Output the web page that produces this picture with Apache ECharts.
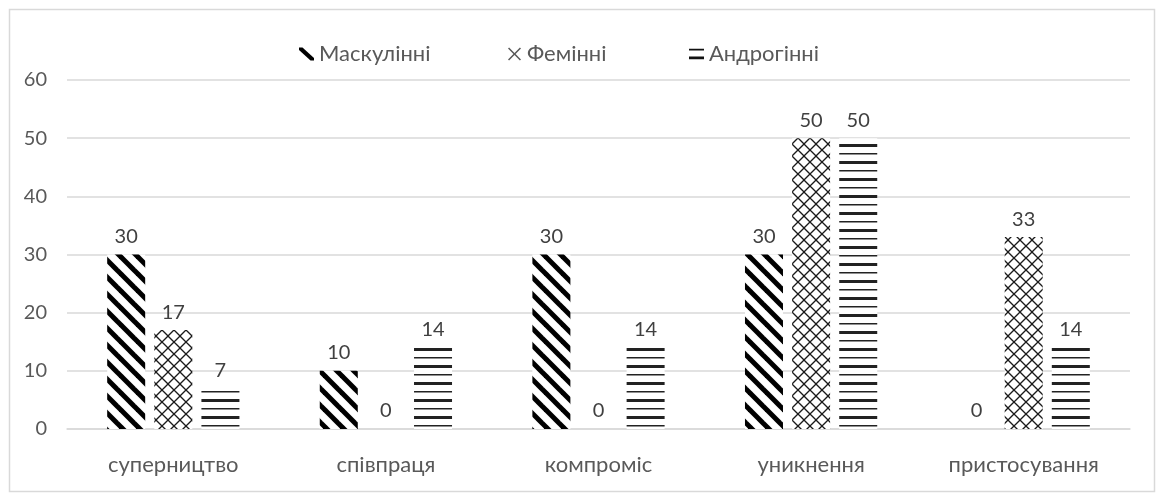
<!DOCTYPE html>
<html>
<head>
<meta charset="utf-8">
<script src="https://cdn.jsdelivr.net/npm/echarts@6/dist/echarts.min.js"></script>
<style>
html,body{margin:0;padding:0;background:#fff;}
#main{width:1160px;height:500px;}
</style>
</head>
<body>
<div id="main"></div>
<script>
const categories = ['суперництво', 'співпраця', 'компроміс', 'уникнення', 'пристосування'];
const seriesNames = ['Маскулінні', 'Фемінні', 'Андрогінні'];
const masculine = [30, 10, 30, 30, 0];
const feminine = [17, 0, 0, 50, 33];
const androgynous = [7, 14, 14, 50, 14];
const yTicks = [0, 10, 20, 30, 40, 50, 60];

function makeCanvas(w, h, draw) {
  const c = document.createElement('canvas');
  c.width = w; c.height = h;
  const ctx = c.getContext('2d');
  ctx.fillStyle = '#fff';
  ctx.fillRect(0, 0, w, h);
  draw(ctx, w, h);
  return c;
}
// diagonal "\" stripes
const diagPat = makeCanvas(17, 17, (ctx, w, h) => {
  ctx.strokeStyle = '#000';
  ctx.lineWidth = 5;
  for (let k = -1; k <= 1; k++) {
    ctx.beginPath();
    ctx.moveTo(k * w - 2, -2);
    ctx.lineTo(k * w + w + 2, h + 2);
    ctx.stroke();
  }
});
// crosshatch diamonds
const crossPat = makeCanvas(12, 12, (ctx, w, h) => {
  ctx.strokeStyle = '#1a1a1a';
  ctx.lineWidth = 1.3;
  for (let k = -1; k <= 1; k++) {
    ctx.beginPath();
    ctx.moveTo(k * w - 1, -1);
    ctx.lineTo(k * w + w + 1, h + 1);
    ctx.stroke();
    ctx.beginPath();
    ctx.moveTo(k * w + w + 1, -1);
    ctx.lineTo(k * w - 1, h + 1);
    ctx.stroke();
  }
});
// horizontal lines alternating thin / thick
const horizPat = makeCanvas(8, 17, (ctx, w, h) => {
  ctx.fillStyle = '#222';
  ctx.fillRect(0, 0, w, 1.5);
  ctx.fillRect(0, 8, w, 3);
});

const chart = echarts.init(document.getElementById('main'), null, {renderer: 'canvas'});
const font = 'Lato';
const labelStyle = {show: true, position: 'top', distance: 8, color: '#404040', fontSize: 20, fontFamily: font};

function legendFor(i, left, icon, color) {
  return {
    left: left, top: 38,
    itemWidth: 15, itemHeight: 13, itemGap: 0,
    textStyle: {color: '#595959', fontSize: 22, fontFamily: font},
    selectedMode: false,
    data: [{name: seriesNames[i], icon: icon, itemStyle: {color: color}}]
  };
}

chart.setOption({
  animation: false,
  backgroundColor: '#fff',
  graphic: [{
    type: 'rect', shape: {x: 9.5, y: 9.5, width: 1145, height: 482},
    style: {fill: 'none', stroke: '#d9d9d9', lineWidth: 1.5}, silent: true
  }],
  legend: [
    legendFor(0, 294, 'path://M0,0 L3.5,0 L15,10.5 L15,13 L11.5,13 L0,2.5 Z', '#000'),
    legendFor(1, 503, 'path://M0,1 L1,0 L6,5 L11,0 L12,1 L7,6 L12,11 L11,12 L6,7 L1,12 L0,11 L5,6 Z', '#595959'),
    legendFor(2, 684, 'path://M0,0 L12,0 L12,1.4 L0,1.4 Z M0,6.2 L12,6.2 L12,8.4 L0,8.4 Z', '#111')
  ],
  grid: {left: 67, right: 30, top: 80, bottom: 71, containLabel: false},
  xAxis: {
    type: 'category', data: categories,
    axisLine: {show: true, lineStyle: {color: '#d9d9d9', width: 1.5}},
    axisTick: {show: false},
    axisLabel: {color: '#595959', fontSize: 22, fontFamily: font, margin: 25}
  },
  yAxis: {
    type: 'value', min: yTicks[0], max: yTicks[yTicks.length - 1], interval: 10,
    axisLine: {show: false}, axisTick: {show: false},
    axisLabel: {color: '#595959', fontSize: 20, fontFamily: font, margin: 20},
    splitLine: {lineStyle: {color: '#d9d9d9', width: 1.5}}
  },
  series: [
    {name: seriesNames[0], type: 'bar', data: masculine, barWidth: 38, barGap: '24%',
     itemStyle: {color: {image: diagPat, repeat: 'repeat'}}, label: labelStyle},
    {name: seriesNames[1], type: 'bar', data: feminine, barWidth: 38, barGap: '24%',
     itemStyle: {color: {image: crossPat, repeat: 'repeat'}}, label: labelStyle},
    {name: seriesNames[2], type: 'bar', data: androgynous, barWidth: 38, barGap: '24%',
     itemStyle: {color: {image: horizPat, repeat: 'repeat'}}, label: labelStyle}
  ]
});
</script>
</body>
</html>
